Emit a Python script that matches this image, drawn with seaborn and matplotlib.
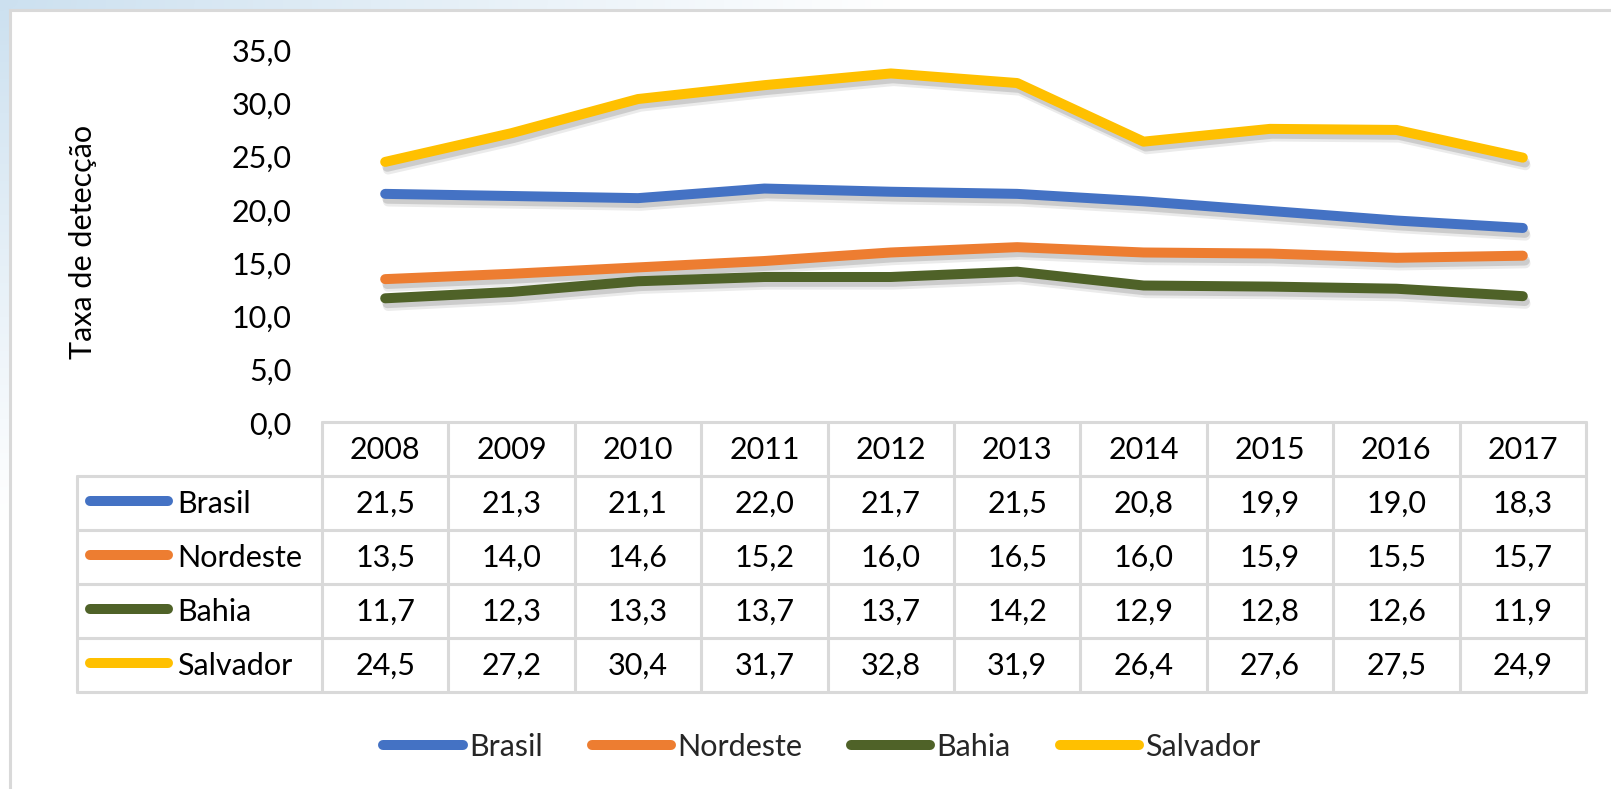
import numpy as np
import pandas as pd
import matplotlib
matplotlib.use("Agg")
import matplotlib.pyplot as plt
import seaborn as sns
from matplotlib import patheffects as pe
from matplotlib.lines import Line2D
from matplotlib.patches import Rectangle

# ---------------- data ----------------
years = [2008, 2009, 2010, 2011, 2012, 2013, 2014, 2015, 2016, 2017]
series_names = ["Brasil", "Nordeste", "Bahia", "Salvador"]
brasil = [21.5, 21.3, 21.1, 22.0, 21.7, 21.5, 20.8, 19.9, 19.0, 18.3]
nordeste = [13.5, 14.0, 14.6, 15.2, 16.0, 16.5, 16.0, 15.9, 15.5, 15.7]
bahia = [11.7, 12.3, 13.3, 13.7, 13.7, 14.2, 12.9, 12.8, 12.6, 11.9]
salvador = [24.5, 27.2, 30.4, 31.7, 32.8, 31.9, 26.4, 27.6, 27.5, 24.9]
y_ticks = [0, 5, 10, 15, 20, 25, 30, 35]
y_label = "Taxa de detecção"
colors = ["#4472C4", "#ED7D31", "#4F6228", "#FFC000"]

values = [brasil, nordeste, bahia, salvador]
df = pd.DataFrame({
    "pos": np.tile(np.arange(len(years)), len(series_names)),
    "ano": np.tile(years, len(series_names)),
    "valor": np.concatenate(values),
    "serie": np.repeat(series_names, len(years)),
})

def fmt(v):
    return f"{v:.1f}".replace(".", ",")

# ---------------- figure ----------------
W, H = 1611, 789
sns.set_theme(style="white")
plt.rcParams["font.family"] = ["Lato", "DejaVu Sans"]
FS = 22
fig = plt.figure(figsize=(W / 100, H / 100), dpi=100)

# pixel-coordinate canvas (background, chart box, data table)
pa = fig.add_axes([0, 0, 1, 1], zorder=0)
pa.set_xlim(0, W)
pa.set_ylim(H, 0)
pa.axis("off")
yy, xx = np.mgrid[0:H, 0:W]
t = np.clip(np.sqrt((xx / 900.0) ** 2 + (yy / 520.0) ** 2), 0, 1)
blue = np.array([0.80, 0.88, 0.94])
img = blue * (1 - t[..., None]) + np.ones(3) * t[..., None]
pa.imshow(img, extent=[0, W, H, 0], aspect="auto", zorder=0)
pa.add_patch(Rectangle((10, 10), W + 20, H + 20, facecolor="white",
                       edgecolor="#D9D9D9", lw=2.2, zorder=1))

# ---------------- line chart ----------------
tab_left, col_left, tab_right = 77, 322, 1586
row_edges = [422, 476, 530, 584, 638, 692]
col_w = (tab_right - col_left) / len(years)
y0_px, ytop_px = 423, 50

ax = fig.add_axes([col_left / W, (H - y0_px) / H,
                   (tab_right - col_left) / W, (y0_px - ytop_px) / H], zorder=2)
ax.set_facecolor("none")
shadow = [pe.SimpleLineShadow(offset=(1.5, -3.5), shadow_color="black", alpha=0.13),
          pe.SimpleLineShadow(offset=(2.0, -5.5), shadow_color="black", alpha=0.08),
          pe.Normal()]
sns.lineplot(data=df, x="pos", y="valor", hue="serie", hue_order=series_names,
             palette=colors, linewidth=7.2, ax=ax, legend=False, sort=False,
             solid_capstyle="round", solid_joinstyle="round", path_effects=shadow)
ax.set_xlim(-0.5, len(years) - 0.5)
ax.set_ylim(0, 35)
ax.set_xticks([])
ax.set_yticks(y_ticks)
ax.set_yticklabels([fmt(v) for v in y_ticks], fontsize=FS, color="black")
ax.tick_params(axis="y", length=0, pad=22)
ax.set_xlabel("")
ax.set_ylabel(y_label, fontsize=FS, color="black")
ax.yaxis.set_label_coords((83 - col_left) / (tab_right - col_left),
                          (y0_px - 242) / (y0_px - ytop_px))
ax.yaxis.label.set_va("center")
for s in ax.spines.values():
    s.set_visible(False)

# ---------------- data table ----------------
gc, glw = "#D9D9D9", 2.2
pa.plot([col_left, tab_right], [row_edges[0], row_edges[0]], color=gc, lw=glw, zorder=3)
for ye in row_edges[1:]:
    pa.plot([tab_left, tab_right], [ye, ye], color=gc, lw=glw, zorder=3)
pa.plot([tab_left, tab_left], [row_edges[1], row_edges[-1]], color=gc, lw=glw, zorder=3)
for i in range(len(years) + 1):
    xe = col_left + i * col_w
    pa.plot([xe, xe], [row_edges[0], row_edges[-1]], color=gc, lw=glw, zorder=3)

for i, yr in enumerate(years):
    pa.text(col_left + (i + 0.5) * col_w, (row_edges[0] + row_edges[1]) / 2 + 1, str(yr),
            ha="center", va="center", fontsize=FS, color="black", zorder=4)

for r, (name, vals, c) in enumerate(zip(series_names, values, colors)):
    yc = (row_edges[r + 1] + row_edges[r + 2]) / 2
    pa.plot([90, 168], [yc - 2, yc - 2], color=c, lw=7.2, solid_capstyle="round", zorder=4)
    pa.text(177, yc + 1, name, ha="left", va="center", fontsize=FS, color="black", zorder=4)
    for i, v in enumerate(vals):
        pa.text(col_left + (i + 0.5) * col_w, yc + 1, fmt(v), ha="center", va="center",
                fontsize=FS, color="black", zorder=4)

# ---------------- bottom legend ----------------
handles = [Line2D([0], [0], color=c, lw=7.2, solid_capstyle="round") for c in colors]
fig.legend(handles, series_names, loc="center", bbox_to_anchor=(822 / W, 1 - 747 / H),
           ncol=4, frameon=False, fontsize=FS, handlelength=2.6, handletextpad=0.2,
           columnspacing=1.6)

fig.savefig("out.png", dpi=100)
